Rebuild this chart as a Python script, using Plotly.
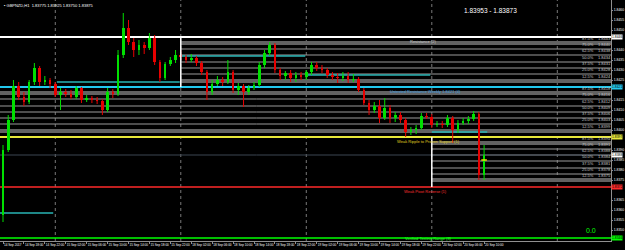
import plotly.graph_objects as go

# ---------------- data ----------------
bars = list(range(93))
opens = [1.83575,1.83900,1.84050,1.84220,1.84165,1.84140,1.84240,1.84310,1.84240,1.84250,
         1.84230,1.84175,1.84190,1.84180,1.84165,1.84210,1.84150,1.84160,1.84150,1.84145,
         1.84100,1.84190,1.84180,1.84375,1.84510,1.84440,1.84400,1.84425,1.84410,1.84460,
         1.84340,1.84260,1.84330,1.84350,1.84375,1.84365,1.84350,1.84360,1.84335,1.84290,
         1.84190,1.84230,1.84250,1.84240,1.84290,1.84200,1.84220,1.84190,1.84210,1.84225,
         1.84325,1.84385,1.84425,1.84300,1.84270,1.84285,1.84260,1.84275,1.84265,1.84290,
         1.84325,1.84310,1.84300,1.84275,1.84265,1.84260,1.84270,1.84250,1.84255,1.84200,
         1.84135,1.84100,1.84120,1.84060,1.84110,1.84060,1.84075,1.84050,1.83990,1.84000,
         1.84010,1.84070,1.84065,1.84025,1.84030,1.84025,1.84060,1.84000,1.84035,1.84045,
         1.84055,1.84080,1.83775]
highs = [1.83925,1.84075,1.84250,1.84240,1.84190,1.84250,1.84335,1.84320,1.84270,1.84260,
         1.84240,1.84210,1.84205,1.84200,1.84220,1.84215,1.84175,1.84170,1.84165,1.84155,
         1.84210,1.84205,1.84400,1.84585,1.84550,1.84460,1.84450,1.84440,1.84485,1.84475,
         1.84350,1.84340,1.84365,1.84400,1.84400,1.84375,1.84380,1.84370,1.84345,1.84300,
         1.84250,1.84270,1.84265,1.84350,1.84300,1.84235,1.84230,1.84225,1.84240,1.84340,
         1.84400,1.84440,1.84435,1.84310,1.84295,1.84300,1.84290,1.84290,1.84300,1.84340,
         1.84340,1.84325,1.84310,1.84290,1.84285,1.84290,1.84290,1.84280,1.84265,1.84210,
         1.84150,1.84140,1.84150,1.84160,1.84125,1.84090,1.84090,1.84060,1.84015,1.84025,
         1.84085,1.84085,1.84080,1.84045,1.84045,1.84075,1.84070,1.84050,1.84060,1.84070,
         1.84095,1.84090,1.83925]
lows = [1.83540,1.83890,1.84040,1.84150,1.84120,1.84130,1.84225,1.84220,1.84225,1.84210,
        1.84165,1.84100,1.84165,1.84155,1.84155,1.84135,1.84140,1.84135,1.84130,1.84075,
        1.84090,1.84160,1.84170,1.84360,1.84425,1.84365,1.84375,1.84380,1.84400,1.84325,
        1.84240,1.84250,1.84320,1.84335,1.84350,1.84335,1.84340,1.84320,1.84275,1.84150,
        1.84175,1.84220,1.84220,1.84230,1.84185,1.84175,1.84115,1.84175,1.84200,1.84215,
        1.84310,1.84370,1.84285,1.84250,1.84250,1.84240,1.84240,1.84250,1.84250,1.84275,
        1.84295,1.84285,1.84260,1.84250,1.84235,1.84245,1.84235,1.84240,1.84190,1.84125,
        1.84075,1.84085,1.84035,1.84050,1.84035,1.84040,1.84035,1.83965,1.83975,1.83980,
        1.84000,1.84055,1.84010,1.84015,1.84010,1.84015,1.83935,1.83985,1.84025,1.84030,
        1.84045,1.83750,1.83750]
closes = [1.83900,1.84050,1.84220,1.84165,1.84140,1.84240,1.84310,1.84240,1.84250,1.84230,
          1.84175,1.84190,1.84180,1.84165,1.84210,1.84150,1.84160,1.84150,1.84145,1.84100,
          1.84190,1.84180,1.84375,1.84510,1.84440,1.84400,1.84425,1.84410,1.84460,1.84340,
          1.84260,1.84330,1.84350,1.84375,1.84365,1.84350,1.84360,1.84335,1.84290,1.84190,
          1.84230,1.84250,1.84240,1.84290,1.84200,1.84220,1.84190,1.84210,1.84225,1.84325,
          1.84385,1.84425,1.84300,1.84270,1.84285,1.84260,1.84275,1.84265,1.84290,1.84325,
          1.84310,1.84300,1.84275,1.84265,1.84260,1.84270,1.84250,1.84255,1.84200,1.84135,
          1.84100,1.84120,1.84060,1.84110,1.84060,1.84075,1.84050,1.83990,1.84000,1.84010,
          1.84070,1.84065,1.84025,1.84030,1.84025,1.84060,1.84000,1.84035,1.84045,1.84055,
          1.84080,1.83775,1.83875]

time_tick_bars = [0,4,8,12,16,20,24,28,32,36,40,44,48,52,56,60,64,68,72,76,80,84,88,92]
time_tick_labels = ["14 Sep 2017","14 Sep 18:00","14 Sep 22:00","15 Sep 02:00","15 Sep 06:00",
                    "15 Sep 10:00","15 Sep 14:00","15 Sep 18:00","15 Sep 22:00","18 Sep 02:00",
                    "18 Sep 06:00","18 Sep 10:00","18 Sep 14:00","18 Sep 18:00","18 Sep 22:00",
                    "19 Sep 02:00","19 Sep 06:00","19 Sep 10:00","19 Sep 14:00","19 Sep 18:00",
                    "19 Sep 22:00","20 Sep 02:00","20 Sep 06:00","20 Sep 10:00"]
day_separators = [10, 34, 58, 82, 106]

price_ticks = [1.8345,1.8350,1.8355,1.8360,1.8365,1.8370,1.8375,1.8380,1.8385,1.8390,1.8395,
               1.8400,1.8405,1.8410,1.8415,1.8420,1.8425,1.8430,1.8435,1.8440,1.8445,1.8450,
               1.8455,1.8460]

# key S/R levels
level_resist_top = 1.84465
level_resist_main = 1.84215
level_support_weak = 1.83965
level_pivot = 1.83715
level_range = 1.83460
bid_price = closes[-1]

zone_pct = ["87.5%","75.0%","62.5%","50.0%","37.5%","25.0%","12.5%"]
zoneA_levels = [1.84435,1.84405,1.84375,1.84340,1.84310,1.84280,1.84245]
zoneM_levels = [1.84185,1.84155,1.84120,1.84090,1.84060,1.84030,1.83995]
zoneB_levels = [1.83935,1.83905,1.83875,1.83845,1.83810,1.83780,1.83750]
zoneA_start, zoneM_start, zoneB_start = 34, -0.6, 82

day_open_start = [-0.6, 10.3, 34, 58, 82]
day_open_end = [9.6, 33.8, 57.8, 81.7, 92.6]
day_open_price = [1.83585, 1.84240, 1.84370, 1.84275, 1.83990]

X0, X1 = -0.574, 116.27
Y0, Y1 = 1.83445, 1.84650

FONT = "Liberation Sans"
UP, DOWN = "#00e000", "#e80000"

fig = go.Figure()

# wicks
for want_up, col in ((True, UP), (False, DOWN)):
    wx, wy = [], []
    for b, o, h, l, c in zip(bars, opens, highs, lows, closes):
        if (c >= o) == want_up:
            wx += [b, b, None]
            wy += [l, h, None]
    fig.add_trace(go.Scatter(x=wx, y=wy, mode="lines", line=dict(color=col, width=1),
                             showlegend=False, hoverinfo="skip"))
# bodies
body_base = [min(o, c) for o, c in zip(opens, closes)]
body_len = [max(abs(c - o), 0.00002) for o, c in zip(opens, closes)]
body_col = [UP if c >= o else DOWN for o, c in zip(opens, closes)]
fig.add_trace(go.Bar(x=bars, y=body_len, base=body_base, width=0.5,
                     marker=dict(color=body_col, line=dict(width=0)),
                     showlegend=False, hoverinfo="skip"))
fig.add_trace(go.Scatter(x=[bars[-1]], y=[1.83850], mode="markers",
                         marker=dict(symbol="line-ew", size=4, line=dict(color="#e8e000", width=1.5)),
                         showlegend=False, hoverinfo="skip"))

shapes = []
def hline(y, x0, x1, color, width, dash="solid"):
    shapes.append(dict(type="line", xref="x", yref="y", x0=x0, x1=x1, y0=y, y1=y,
                       line=dict(color=color, width=width, dash=dash), layer="below"))

for levels, start in ((zoneA_levels, zoneA_start), (zoneM_levels, zoneM_start), (zoneB_levels, zoneB_start)):
    for k, lv in enumerate(levels):
        if k == 0 or k == len(levels) - 1:
            hline(lv, start, X1, "#626262", 4)
        else:
            hline(lv, start, X1, "#9a9a9a", 1)

for b in day_separators:
    shapes.append(dict(type="line", xref="x", yref="paper", x0=b, x1=b, y0=0, y1=1,
                       line=dict(color="#7a7a7a", width=1, dash="dot"), layer="below"))

for s, e, p in zip(day_open_start, day_open_end, day_open_price):
    hline(p, s, e, "#28b4b4", 1.5)

hline(bid_price, X0, X1, "#3c4652", 1)
hline(level_resist_top, X0, X1, "#ffffff", 2)
hline(level_resist_main, X0, X1, "#22c8ee", 2)
hline(level_support_weak, X0, X1, "#e8e83a", 2)
hline(level_pivot, X0, X1, "#ff2a2a", 1.5)
hline(level_range, X0, X1, "#00ff00", 1.5)

shapes.append(dict(type="line", xref="x", yref="y", x0=zoneA_start, x1=zoneA_start,
                   y0=level_resist_main, y1=level_resist_top, line=dict(color="#ffffff", width=1.5)))
shapes.append(dict(type="line", xref="x", yref="y", x0=zoneB_start, x1=zoneB_start,
                   y0=level_pivot, y1=level_support_weak, line=dict(color="#ffffff", width=1.5)))

ann = []
def label(text, x, y, color, size=4, xref="x", xanchor="left", yanchor="top", **kw):
    ann.append(dict(text=text, x=x, y=y, xref=xref, yref="y", xanchor=xanchor, yanchor=yanchor,
                    showarrow=False, font=dict(family=FONT, size=size, color=color), **kw))

label("Resistance (2)", 77.4, level_resist_top, "#d0d0d0")
label("Untested Resistance Weekly 1.8421 (4)", 73.6, level_resist_main, "#3aa0e0")
label("Weak Ripple to Proven Support (1)", 75.0, level_support_weak, "#e0d020")
label("Weak Pivot Reverse (1)", 76.3, level_pivot, "#ff3030")
label("Verified Testing Range (8)", 76.5, level_range, "#30ff30", yanchor="middle")

for levels in (zoneA_levels, zoneM_levels, zoneB_levels):
    for pct, lv in zip(zone_pct, levels):
        label(pct, 0.962, lv, "#c8c8c8", xref="paper", xanchor="center", yanchor="bottom")
        label(f"{lv:.4f}", 0.989, lv, "#c8c8c8", xref="paper", xanchor="center", yanchor="bottom")

highlight = ((level_resist_top, "#ffffff"), (level_resist_main, "#22c8ee"),
             (level_support_weak, "#e8e83a"), (bid_price, "#ffffff"),
             (level_pivot, "#ff2a2a"), (level_range, "#00ff00"))
for val, bg in highlight:
    ann.append(dict(text=f"{val:.4f}", x=1.0, y=val, xref="paper", yref="y", xanchor="left",
                    yanchor="middle", showarrow=False, bgcolor=bg, borderpad=0,
                    font=dict(family=FONT, size=3.4, color="#000000")))
shown_ticks = [t for t in price_ticks if all(abs(t - v) > 0.00022 for v, _ in highlight)]

ann.append(dict(text="0.0", x=0.979, y=1.83500, xref="paper", yref="y", showarrow=False,
                font=dict(family=FONT, size=7, color="#00ff00")))
ann.append(dict(text="1.83953 - 1.83873", x=0.850, y=1.84600, xref="paper", yref="y", showarrow=False,
                font=dict(family=FONT, size=6.5, color="#ffffff")))
ann.append(dict(text="▪ GBPNZD,H1  1.83775 1.83925 1.83750 1.83875", x=0.003, y=1, xref="paper",
                yref="paper", xanchor="left", yanchor="top", yshift=-1, showarrow=False,
                font=dict(family=FONT, size=4, color="#ffffff")))

fig.update_layout(
    width=625, height=250, margin=dict(l=0, r=14, t=0, b=9, autoexpand=False),
    paper_bgcolor="#000000", plot_bgcolor="#000000", bargap=0,
    shapes=shapes, annotations=ann, showlegend=False,
    xaxis=dict(range=[X0, X1], showgrid=False, zeroline=False, automargin=False,
               tickmode="array", tickvals=time_tick_bars, ticktext=time_tick_labels, tickangle=0,
               ticklabelposition="outside right", tickfont=dict(family=FONT, size=3.1, color="#ffffff"),
               ticks="outside", ticklen=2, tickcolor="#909090", showline=True, linecolor="#909090",
               linewidth=1, mirror=True, fixedrange=True),
    yaxis=dict(range=[Y0, Y1], side="right", showgrid=False, zeroline=False, automargin=False,
               tickmode="array", tickvals=shown_ticks, ticktext=[f"{t:.4f}" for t in shown_ticks],
               tickfont=dict(family=FONT, size=3.4, color="#ffffff"),
               ticks="outside", ticklen=1, tickcolor="#909090", showline=True, linecolor="#909090",
               linewidth=1, mirror=True, fixedrange=True),
)

fig.write_html("out.html")
